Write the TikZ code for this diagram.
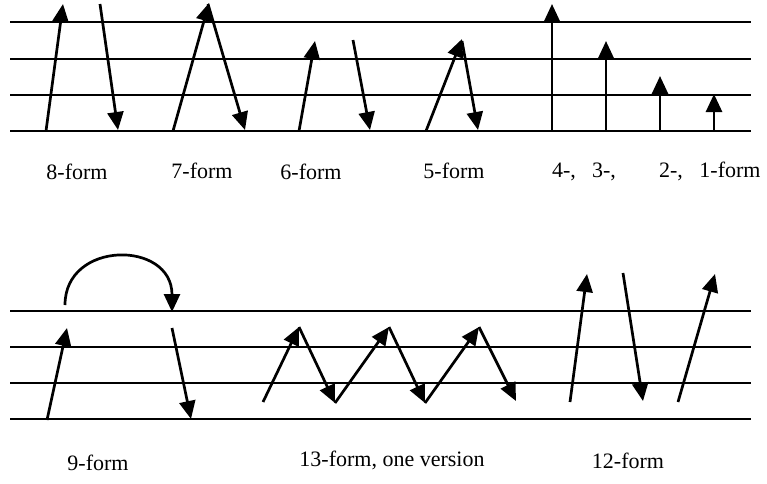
\documentclass[tikz,border=0pt]{standalone}
\usepackage{fontspec}
\setmainfont{Liberation Serif}
\usetikzlibrary{arrows.meta}
\tikzset{
  staff/.style={line width=2pt},
  arr/.style={line width=2.7pt,-{Triangle[length=18pt,width=16pt]}},
  lbl/.style={anchor=base,inner sep=0pt,font=\fontsize{22}{26}\selectfont}
}
\begin{document}
\begin{tikzpicture}[x=1pt,y=-1pt]
\useasboundingbox (0,0) rectangle (767,483);
% top staff
\foreach \yy in {22,59,95,131} \draw[staff] (10,\yy) -- (751,\yy);
% bottom staff
\foreach \yy in {311,347,383,419} \draw[staff] (10,\yy) -- (751,\yy);
% 8-form
\draw[arr] (46,131) -- (63,4);
\draw[arr] (100,4) -- (118,130);
% 7-form
\draw[arr] (173,131) -- (209,3);
\draw[arr] (208,4) -- (245,130);
% 6-form
\draw[arr] (299,131) -- (315,41);
\draw[arr] (353,40) -- (370,130);
% 5-form
\draw[arr] (426,131) -- (462,39);
\draw[arr] (462,41) -- (478,130);
% 4-,3-,2-,1-form
\draw[arr] (552,131) -- (552,4);
\draw[arr] (606,131) -- (606,41);
\draw[arr] (660,131) -- (660,76);
\draw[arr] (714,131) -- (714,94);
% labels top
\node[lbl] (l8) at (77,179) {8-form};
\node[lbl] (l7) at (202,178) {7-form};
\node[lbl] (l6) at (311,179) {6-form};
\node[lbl] (l5) at (454,178) {5-form};
\node[lbl] (l4) at (564,177) {4-,};
\node[lbl] (l3) at (604,177) {3-,};
\node[lbl] (l2) at (671,177) {2-,};
\node[lbl] (l1) at (730,177) {1-form};
% 9-form
\draw[arr] (47,420) -- (67,328);
\draw[arr] (65,305) .. controls (65,240) and (172,240) .. (172,312);
\draw[arr] (172,328) -- (191,419);
% 13-form
\coordinate (a0) at (263,402);
\coordinate (a1) at (299,327);
\coordinate (a2) at (335,403);
\coordinate (a3) at (389,327);
\coordinate (a4) at (425,403);
\coordinate (a5) at (479,327);
\coordinate (a6) at (516,401);
\draw[arr] (a0) -- (a1);
\draw[arr] (a1) -- (a2);
\draw[arr] (a2) -- (a3);
\draw[arr] (a3) -- (a4);
\draw[arr] (a4) -- (a5);
\draw[arr] (a5) -- (a6);
% 12-form
\draw[arr] (570,402) -- (587,274);
\draw[arr] (623,273) -- (643,401);
\draw[arr] (678,402) -- (715,274);
% labels bottom
\node[lbl] (l9) at (98,470) {9-form};
\node[lbl] (l13) at (392,466) {13-form, one version};
\node[lbl] (l12) at (628,468) {12-form};
\end{tikzpicture}
\end{document}
